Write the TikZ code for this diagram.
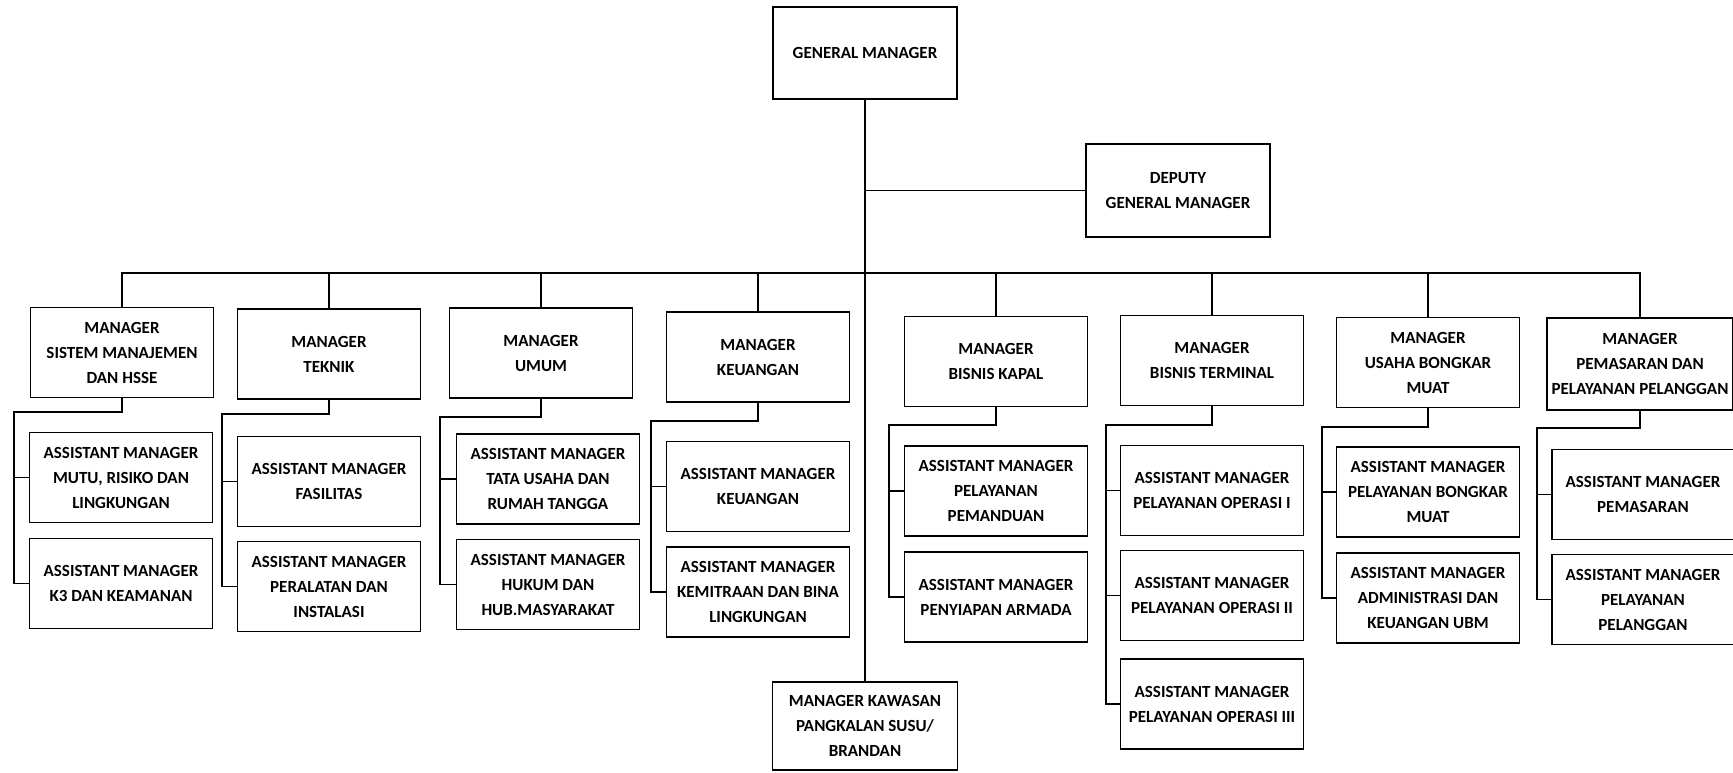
\documentclass[tikz,border=0pt]{standalone}
\usepackage{fontspec}
\setmainfont{Carlito}

\begin{document}
\begin{tikzpicture}[x=1pt,y=-1pt,
  orgbox/.style={draw,line width=1.6pt,minimum width=183pt,minimum height=90pt,
    inner sep=0pt,align=center,font=\bfseries\fontsize{17}{25}\selectfont},
  link/.style={line width=1.3pt}]
\useasboundingbox[fill=white] (0,0) rectangle (1733,772);

\node[orgbox,minimum width=184pt,minimum height=92pt] (gm) at (865,53) {GENERAL MANAGER};
\node[orgbox,minimum width=184pt,minimum height=93pt] (dgm) at (1178,190.5) {DEPUTY\\GENERAL MANAGER};
\node[orgbox,minimum width=185pt,minimum height=88pt] (kws) at (865,726) {MANAGER KAWASAN\\PANGKALAN SUSU/\\BRANDAN};

% managers
\node[orgbox] (m1) at (122,352.5) {MANAGER\\SISTEM MANAJEMEN\\DAN HSSE};
\node[orgbox] (m2) at (329,354) {MANAGER\\TEKNIK};
\node[orgbox] (m3) at (541,353) {MANAGER\\UMUM};
\node[orgbox] (m4) at (758,357) {MANAGER\\KEUANGAN};
\node[orgbox] (m5) at (996,361.5) {MANAGER\\BISNIS KAPAL};
\node[orgbox] (m6) at (1212,360.5) {MANAGER\\BISNIS TERMINAL};
\node[orgbox] (m7) at (1428,362.5) {MANAGER\\USAHA BONGKAR\\MUAT};
\node[orgbox,minimum width=186pt,minimum height=92pt] (m8) at (1640,364) {MANAGER\\PEMASARAN DAN\\PELAYANAN PELANGGAN};

% assistant managers
\node[orgbox] (a1-1) at (121,477.5) {ASSISTANT MANAGER\\MUTU, RISIKO DAN\\LINGKUNGAN};
\node[orgbox] (a1-2) at (121,583.5) {ASSISTANT MANAGER\\K3 DAN KEAMANAN};
\node[orgbox] (a2-1) at (329,481.5) {ASSISTANT MANAGER\\FASILITAS};
\node[orgbox] (a2-2) at (329,586.5) {ASSISTANT MANAGER\\PERALATAN DAN\\INSTALASI};
\node[orgbox] (a3-1) at (548,479) {ASSISTANT MANAGER\\TATA USAHA DAN\\RUMAH TANGGA};
\node[orgbox] (a3-2) at (548,584.5) {ASSISTANT MANAGER\\HUKUM DAN\\HUB.MASYARAKAT};
\node[orgbox] (a4-1) at (758,486.5) {ASSISTANT MANAGER\\KEUANGAN};
\node[orgbox] (a4-2) at (758,592) {ASSISTANT MANAGER\\KEMITRAAN DAN BINA\\LINGKUNGAN};
\node[orgbox] (a5-1) at (996,491) {ASSISTANT MANAGER\\PELAYANAN\\PEMANDUAN};
\node[orgbox] (a5-2) at (996,597) {ASSISTANT MANAGER\\PENYIAPAN ARMADA};
\node[orgbox] (a6-1) at (1212,490.5) {ASSISTANT MANAGER\\PELAYANAN OPERASI I};
\node[orgbox] (a6-2) at (1212,595.5) {ASSISTANT MANAGER\\PELAYANAN OPERASI II};
\node[orgbox] (a6-3) at (1212,704) {ASSISTANT MANAGER\\PELAYANAN OPERASI III};
\node[orgbox] (a7-1) at (1428,492) {ASSISTANT MANAGER\\PELAYANAN BONGKAR\\MUAT};
\node[orgbox] (a7-2) at (1428,598) {ASSISTANT MANAGER\\ADMINISTRASI DAN\\KEUANGAN UBM};
\node[orgbox,minimum width=182pt] (a8-1) at (1643,494.5) {ASSISTANT MANAGER\\PEMASARAN};
\node[orgbox,minimum width=182pt] (a8-2) at (1643,599.5) {ASSISTANT MANAGER\\PELAYANAN\\PELANGGAN};

\coordinate (bus) at (865,273);
\coordinate (s1) at (14,412);
\coordinate (s2) at (222,414);
\coordinate (s3) at (440,417);
\coordinate (s4) at (651,421);
\coordinate (s5) at (889,425);
\coordinate (s6) at (1106,425);
\coordinate (s7) at (1322,427);
\coordinate (s8) at (1537,428);

\draw[link] (gm.south) -- (kws.north);
\draw[link] (gm.south |- dgm.west) -- (dgm.west);
\draw[link] (m1.north) |- (bus) -| (m8.north);
\foreach \i in {2,...,7}
  \draw[link] (m\i.north) -- (m\i.north |- bus);

\foreach \i/\n in {1/2,2/2,3/2,4/2,5/2,6/3,7/2,8/2}{
  \draw[link] (m\i.south) |- (s\i) |- (a\i-\n.west);
  \draw[link] (s\i |- a\i-1.west) -- (a\i-1.west);
}
\draw[link] (s6 |- a6-2.west) -- (a6-2.west);
\end{tikzpicture}
\end{document}
